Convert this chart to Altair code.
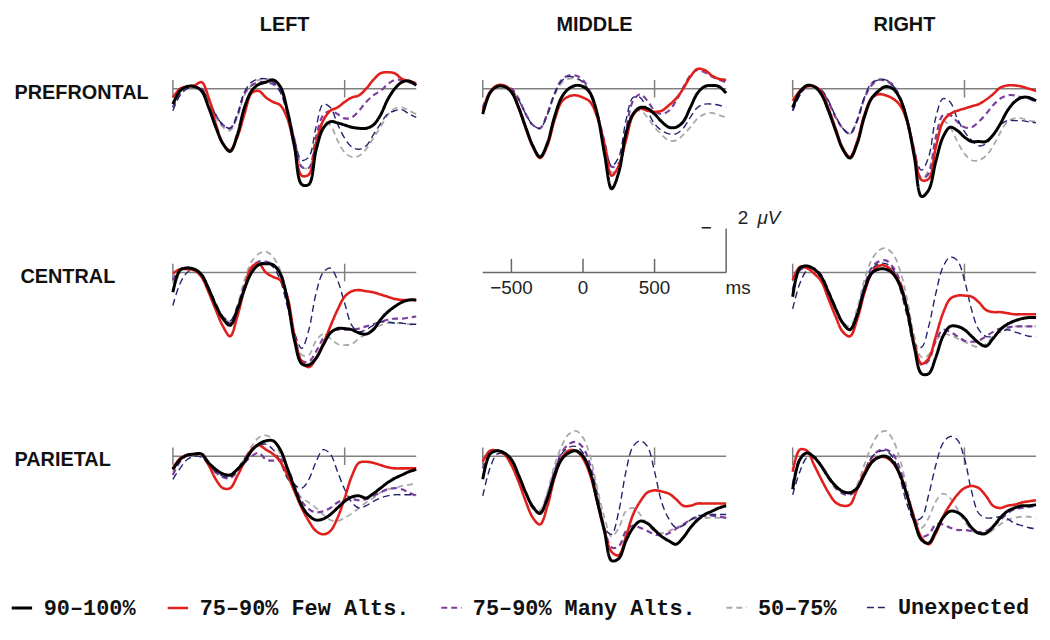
import altair as alt
import pandas as pd

# ---- sample times (ms) ----
TIMES = [-700, -650, -600, -550, -500, -450, -400, -350, -300, -250, -200, -150,
         -100, -50, 0, 50, 100, 150, 200, 250, 300, 350, 400, 450, 500, 550,
         600, 650, 700, 750, 800, 850, 900, 950, 1000]

SERIES = ["90–100%", "75–90% Few Alts.", "75–90% Many Alts.", "50–75%", "Unexpected"]
COLORS = ["#000000", "#e0201c", "#7b3f9e", "#a9a9a9", "#23236e"]
DASHES = [[1, 0], [1, 0], [6, 4], [6, 4], [7, 4]]
WIDTHS = [3.0, 1.4, 1.4, 1.4, 1.7]

# ---- amplitudes (µV, negative plotted up) ----
# Prefrontal
PFL_90 = [0.7, 0.1, -0.1, -0.1, 0.1, 0.85, 1.75, 2.5, 2.85, 2.1, 0.85, 0.1, -0.2, -0.3, -0.4, -0.1, 1.0, 2.65, 4.35, 4.35, 2.8, 1.8, 1.5, 1.55, 1.65, 1.75, 1.8, 1.8, 1.65, 1.2, 0.5, 0.0, -0.3, -0.35, -0.15]
PFL_FEW = [0.4, 0.0, -0.1, -0.15, -0.3, 0.4, 1.6, 2.5, 2.8, 2.2, 1.15, 0.2, 0.1, 0.4, 0.6, 0.75, 1.35, 2.65, 3.95, 3.9, 2.5, 1.45, 1.0, 0.85, 0.6, 0.4, 0.3, 0.0, -0.4, -0.7, -0.75, -0.7, -0.45, -0.35, -0.25]
PFL_MANY = [0.85, 0.2, -0.1, -0.1, 0.0, 0.5, 1.2, 1.65, 1.8, 1.2, 0.2, -0.15, -0.3, -0.3, -0.2, 0.1, 1.0, 2.35, 3.55, 3.6, 2.2, 1.2, 1.0, 1.15, 1.35, 1.3, 1.0, 0.6, 0.3, 0.1, -0.2, -0.4, -0.4, -0.3, -0.15]
PFL_50 = [0.85, 0.2, 0.0, -0.1, 0.05, 0.6, 1.3, 1.75, 1.9, 1.3, 0.3, -0.15, -0.4, -0.45, -0.4, 0.0, 1.0, 2.25, 3.55, 3.6, 2.35, 1.5, 1.65, 2.35, 2.9, 3.1, 3.05, 2.75, 2.25, 1.75, 1.2, 0.9, 0.85, 1.0, 1.15]
PFL_UNX = [1.0, 0.3, 0.0, -0.1, 0.05, 0.5, 1.2, 1.65, 1.8, 1.2, 0.15, -0.3, -0.45, -0.45, -0.3, 0.15, 1.15, 2.35, 3.25, 3.1, 1.75, 0.7, 0.85, 1.6, 2.25, 2.65, 2.75, 2.6, 2.1, 1.6, 1.15, 1.0, 0.95, 1.15, 1.3]

PFM_90 = [1.15, 0.2, -0.1, -0.1, 0.15, 0.85, 1.75, 2.6, 3.1, 2.5, 1.3, 0.4, 0.0, -0.15, -0.1, 0.2, 1.15, 2.95, 4.55, 3.8, 2.05, 1.15, 0.85, 0.9, 1.15, 1.5, 1.75, 1.75, 1.5, 0.85, 0.2, -0.1, -0.15, -0.1, 0.2]
PFM_FEW = [1.0, 0.15, -0.15, -0.15, 0.1, 0.85, 1.8, 2.65, 3.15, 2.6, 1.45, 0.6, 0.35, 0.3, 0.4, 0.6, 1.3, 2.5, 3.95, 3.5, 2.35, 1.2, 0.9, 1.0, 1.05, 1.0, 0.75, 0.45, 0.0, -0.55, -0.9, -0.85, -0.6, -0.45, -0.4]
PFM_MANY = [0.85, 0.15, -0.1, -0.1, 0.0, 0.45, 1.15, 1.65, 1.8, 1.15, 0.25, -0.4, -0.6, -0.6, -0.4, 0.15, 1.15, 2.4, 3.55, 3.4, 1.9, 0.55, 0.25, 0.55, 1.0, 1.15, 1.0, 0.55, -0.05, -0.6, -0.85, -0.75, -0.55, -0.4, -0.3]
PFM_50 = [0.9, 0.15, -0.1, -0.1, 0.05, 0.5, 1.15, 1.65, 1.8, 1.2, 0.3, -0.25, -0.45, -0.45, -0.3, 0.25, 1.3, 2.6, 3.8, 3.55, 2.05, 1.15, 1.0, 1.3, 1.75, 2.1, 2.35, 2.35, 2.1, 1.75, 1.35, 1.15, 1.1, 1.2, 1.3]
PFM_UNX = [1.0, 0.2, -0.1, -0.1, 0.05, 0.5, 1.15, 1.65, 1.8, 1.2, 0.25, -0.35, -0.55, -0.5, -0.3, 0.25, 1.3, 2.5, 3.5, 3.1, 1.45, 0.4, 0.4, 1.0, 1.6, 1.9, 2.05, 2.05, 1.8, 1.3, 0.85, 0.7, 0.7, 0.75, 0.85]

PFR_90 = [0.85, 0.15, -0.15, -0.1, 0.25, 1.0, 1.9, 2.75, 3.15, 2.5, 1.3, 0.45, 0.1, -0.1, 0.0, 0.45, 1.45, 3.1, 4.9, 4.6, 3.3, 2.2, 1.75, 1.9, 2.2, 2.4, 2.4, 2.4, 2.1, 1.6, 1.0, 0.6, 0.4, 0.4, 0.55]
PFR_FEW = [0.55, 0.1, -0.1, -0.1, 0.15, 0.9, 1.8, 2.7, 3.1, 2.4, 1.2, 0.45, 0.25, 0.3, 0.45, 0.75, 1.5, 2.9, 4.15, 4.1, 2.65, 1.5, 1.15, 1.0, 0.9, 0.8, 0.7, 0.5, 0.25, -0.05, -0.15, -0.15, -0.1, 0.0, 0.1]
PFR_MANY = [1.0, 0.25, -0.1, -0.1, 0.1, 0.6, 1.3, 1.8, 2.05, 1.45, 0.45, -0.15, -0.4, -0.35, -0.15, 0.4, 1.4, 2.8, 4.1, 3.85, 2.2, 1.2, 1.2, 1.5, 1.75, 1.75, 1.5, 1.15, 0.75, 0.45, 0.3, 0.3, 0.4, 0.45, 0.6]
PFR_50 = [0.9, 0.25, -0.1, -0.1, 0.1, 0.6, 1.3, 1.8, 2.05, 1.45, 0.45, -0.25, -0.45, -0.4, -0.2, 0.4, 1.45, 2.9, 4.1, 3.7, 2.2, 1.45, 1.75, 2.4, 2.95, 3.25, 3.25, 3.05, 2.6, 2.0, 1.5, 1.35, 1.35, 1.45, 1.5]
PFR_UNX = [1.0, 0.3, -0.1, -0.1, 0.05, 0.55, 1.25, 1.8, 2.05, 1.45, 0.4, -0.25, -0.4, -0.4, -0.15, 0.45, 1.6, 2.95, 3.7, 3.1, 1.3, 0.45, 0.6, 1.35, 1.95, 2.35, 2.6, 2.5, 2.1, 1.65, 1.45, 1.45, 1.45, 1.5, 1.55]

# Central
CL_90 = [0.9, -0.1, -0.2, -0.15, 0.1, 0.75, 1.5, 2.1, 2.4, 1.7, 0.75, 0.0, -0.35, -0.4, -0.35, 0.05, 1.25, 3.1, 4.15, 4.2, 3.9, 3.3, 2.75, 2.55, 2.55, 2.6, 2.75, 2.8, 2.6, 2.15, 1.8, 1.55, 1.35, 1.25, 1.25]
CL_FEW = [0.05, -0.15, -0.15, -0.1, 0.2, 0.9, 1.7, 2.45, 2.9, 2.0, 0.75, -0.25, -0.4, 0.0, 0.2, 0.35, 1.1, 2.9, 4.05, 4.3, 3.9, 3.25, 2.45, 1.7, 1.1, 0.85, 0.8, 0.85, 0.9, 1.0, 1.1, 1.2, 1.25, 1.25, 1.25]
CL_MANY = [0.35, -0.15, -0.2, -0.1, 0.2, 0.8, 1.55, 2.1, 2.3, 1.65, 0.6, -0.2, -0.5, -0.5, -0.35, 0.1, 1.25, 2.9, 4.0, 4.05, 3.6, 3.0, 2.7, 2.6, 2.6, 2.6, 2.55, 2.45, 2.35, 2.25, 2.15, 2.1, 2.1, 2.05, 2.0]
CL_50 = [0.5, -0.1, -0.25, -0.15, 0.1, 0.75, 1.45, 2.0, 2.25, 1.5, 0.35, -0.5, -0.85, -0.95, -0.7, -0.1, 1.1, 2.75, 3.75, 3.75, 3.1, 2.8, 3.0, 3.25, 3.3, 3.25, 3.0, 2.8, 2.55, 2.4, 2.3, 2.3, 2.3, 2.35, 2.4]
CL_UNX = [1.5, 0.5, 0.0, -0.15, 0.05, 0.65, 1.4, 2.0, 2.2, 1.55, 0.6, -0.2, -0.4, -0.45, -0.25, 0.35, 1.55, 2.75, 3.45, 2.6, 0.95, 0.0, -0.2, 0.35, 1.4, 2.4, 2.7, 2.6, 2.4, 2.25, 2.25, 2.3, 2.3, 2.35, 2.35]

CR_90 = [1.1, -0.2, -0.3, -0.15, 0.2, 0.9, 1.65, 2.3, 2.6, 1.95, 0.8, 0.05, -0.15, -0.15, 0.05, 0.6, 1.7, 3.4, 4.6, 4.6, 3.85, 2.9, 2.45, 2.45, 2.6, 2.9, 3.2, 3.35, 3.0, 2.6, 2.35, 2.2, 2.1, 2.05, 2.05]
CR_FEW = [0.35, -0.25, -0.2, 0.05, 0.4, 1.2, 2.0, 2.7, 2.9, 2.15, 0.95, 0.05, -0.3, -0.3, 0.0, 0.5, 1.7, 3.25, 4.15, 3.9, 2.9, 1.85, 1.2, 1.05, 1.05, 1.1, 1.35, 1.7, 1.8, 1.8, 1.85, 1.9, 1.9, 1.9, 1.9]
CR_MANY = [0.8, -0.1, -0.25, -0.15, 0.2, 0.9, 1.65, 2.3, 2.6, 1.85, 0.65, -0.2, -0.5, -0.55, -0.25, 0.4, 1.65, 3.25, 4.2, 4.0, 3.1, 2.6, 2.7, 2.9, 3.1, 3.15, 3.1, 2.9, 2.7, 2.55, 2.5, 2.45, 2.45, 2.45, 2.45]
CR_50 = [0.8, -0.1, -0.25, -0.15, 0.2, 0.9, 1.65, 2.25, 2.45, 1.65, 0.35, -0.55, -1.0, -1.1, -0.85, -0.1, 1.25, 2.9, 3.85, 3.75, 3.1, 2.8, 2.85, 3.0, 3.15, 3.3, 3.4, 3.25, 2.9, 2.7, 2.55, 2.45, 2.45, 2.45, 2.45]
CR_UNX = [1.65, 0.5, -0.1, -0.2, 0.1, 0.8, 1.55, 2.25, 2.55, 1.85, 0.75, -0.1, -0.4, -0.4, -0.15, 0.75, 2.0, 3.25, 3.4, 2.45, 0.95, -0.25, -0.7, -0.55, 0.35, 1.7, 2.6, 2.9, 2.9, 2.7, 2.6, 2.7, 2.8, 2.9, 2.9]

# Parietal
PAL_90 = [0.6, 0.15, -0.05, -0.1, -0.1, 0.3, 0.6, 0.8, 0.85, 0.6, 0.25, -0.25, -0.55, -0.7, -0.7, -0.3, 0.55, 1.45, 2.25, 2.7, 2.9, 2.85, 2.65, 2.35, 2.05, 1.85, 1.8, 1.9, 1.7, 1.45, 1.2, 1.0, 0.85, 0.7, 0.6]
PAL_FEW = [0.55, 0.1, -0.05, -0.1, -0.1, 0.4, 1.05, 1.45, 1.45, 0.9, 0.25, -0.3, -0.5, -0.3, -0.1, 0.25, 0.85, 1.6, 2.35, 2.95, 3.4, 3.55, 3.4, 2.8, 1.9, 0.9, 0.3, 0.25, 0.3, 0.4, 0.5, 0.55, 0.55, 0.55, 0.55]
PAL_MANY = [0.85, 0.25, -0.05, -0.1, -0.05, 0.4, 0.75, 0.95, 1.0, 0.7, 0.3, 0.0, -0.15, 0.15, 0.2, 0.15, 0.55, 1.3, 2.05, 2.4, 2.55, 2.5, 2.35, 2.1, 1.95, 1.95, 2.0, 1.95, 1.8, 1.65, 1.5, 1.45, 1.5, 1.65, 1.8]
PAL_50 = [0.7, 0.15, -0.1, -0.1, -0.05, 0.35, 0.7, 0.85, 0.9, 0.55, 0.1, -0.45, -0.85, -0.95, -0.75, -0.1, 0.85, 1.5, 1.9, 2.1, 2.35, 2.65, 2.9, 2.95, 2.8, 2.6, 2.35, 2.1, 1.9, 1.65, 1.5, 1.45, 1.35, 1.3, 1.2]
PAL_UNX = [1.05, 0.55, 0.15, 0.0, 0.05, 0.4, 0.7, 0.9, 0.95, 0.6, 0.1, -0.3, -0.5, -0.55, -0.3, 0.25, 1.0, 1.3, 1.45, 1.05, 0.25, -0.3, -0.1, 0.7, 1.5, 2.1, 2.35, 2.25, 2.05, 1.9, 1.8, 1.75, 1.75, 1.75, 1.75]

PAM_90 = [1.05, -0.1, -0.25, -0.15, 0.15, 0.85, 1.65, 2.3, 2.6, 1.95, 0.9, 0.15, -0.15, -0.25, 0.0, 0.7, 2.05, 3.4, 4.75, 4.65, 3.85, 3.25, 2.95, 3.05, 3.35, 3.65, 3.85, 4.0, 3.7, 3.25, 2.9, 2.65, 2.5, 2.35, 2.25]
PAM_FEW = [0.25, -0.25, -0.25, -0.1, 0.4, 1.15, 2.05, 2.8, 3.1, 2.3, 1.0, 0.1, -0.25, -0.25, 0.1, 0.85, 2.1, 3.4, 4.35, 4.5, 3.65, 2.65, 2.05, 1.65, 1.55, 1.6, 1.7, 1.95, 2.25, 2.25, 2.15, 2.15, 2.15, 2.15, 2.15]
PAM_MANY = [0.55, -0.15, -0.25, -0.1, 0.25, 0.9, 1.7, 2.35, 2.55, 1.8, 0.7, -0.15, -0.55, -0.65, -0.4, 0.4, 1.75, 3.25, 4.15, 4.1, 3.4, 3.15, 3.25, 3.4, 3.55, 3.6, 3.5, 3.3, 3.1, 2.9, 2.75, 2.7, 2.7, 2.75, 2.8]
PAM_50 = [0.55, -0.1, -0.25, -0.1, 0.2, 0.85, 1.65, 2.25, 2.45, 1.65, 0.45, -0.45, -1.0, -1.15, -0.85, 0.0, 1.45, 2.8, 3.65, 3.25, 2.5, 2.35, 2.65, 3.1, 3.4, 3.5, 3.4, 3.25, 3.1, 2.9, 2.85, 2.8, 2.8, 2.8, 2.8]
PAM_UNX = [1.8, 0.55, -0.1, -0.1, 0.25, 0.9, 1.7, 2.3, 2.6, 1.9, 0.75, -0.1, -0.4, -0.45, -0.15, 0.75, 2.1, 3.25, 3.55, 2.5, 0.7, -0.45, -0.7, -0.45, 0.7, 2.1, 2.85, 3.25, 3.15, 2.9, 2.7, 2.7, 2.65, 2.65, 2.65]

PAR_90 = [1.5, 0.15, -0.15, 0.05, 0.45, 0.95, 1.35, 1.6, 1.65, 1.45, 0.85, 0.3, 0.05, 0.0, 0.25, 0.85, 1.8, 2.95, 3.8, 3.95, 3.4, 2.8, 2.5, 2.55, 2.8, 3.25, 3.5, 3.5, 3.2, 2.8, 2.5, 2.35, 2.25, 2.25, 2.2]
PAR_FEW = [0.7, -0.3, -0.25, 0.4, 1.05, 1.65, 2.1, 2.25, 2.2, 1.5, 0.75, 0.25, 0.05, 0.05, 0.3, 0.85, 1.8, 2.8, 3.7, 4.0, 3.5, 2.75, 2.2, 1.75, 1.45, 1.35, 1.45, 1.8, 2.25, 2.35, 2.25, 2.2, 2.1, 2.05, 2.0]
PAR_MANY = [1.3, 0.1, -0.15, 0.05, 0.45, 1.0, 1.45, 1.7, 1.75, 1.45, 0.75, 0.1, -0.25, -0.3, -0.1, 0.6, 1.75, 2.95, 3.65, 3.55, 3.1, 3.1, 3.25, 3.35, 3.35, 3.4, 3.45, 3.4, 3.2, 2.9, 2.6, 2.4, 2.35, 2.3, 2.25]
PAR_50 = [1.35, 0.1, -0.15, 0.05, 0.4, 0.9, 1.35, 1.6, 1.7, 1.3, 0.4, -0.45, -1.0, -1.15, -0.75, 0.15, 1.5, 2.7, 3.25, 2.8, 2.05, 1.7, 1.9, 2.4, 2.95, 3.35, 3.55, 3.55, 3.35, 3.1, 2.9, 2.8, 2.75, 2.75, 2.8]
PAR_UNX = [1.75, 0.7, 0.05, 0.0, 0.4, 0.9, 1.35, 1.6, 1.7, 1.4, 0.7, 0.05, -0.2, -0.25, 0.05, 1.0, 2.2, 2.9, 2.8, 1.75, 0.4, -0.6, -0.9, -0.75, 0.1, 1.6, 2.6, 2.8, 2.8, 2.75, 2.85, 3.05, 3.15, 3.25, 3.3]

# Scale-panel labels
AXIS_TICKS = [-500, 0, 500]
AXIS_LABELS = ["−500", "0", "500"]
BASE_TICKS = [-700, 500]

COLS = ["LEFT", "MIDDLE", "RIGHT"]
ROWS = ["PREFRONTAL", "CENTRAL", "PARIETAL"]

PANELS = {
    ("PREFRONTAL", "LEFT"): [PFL_90, PFL_FEW, PFL_MANY, PFL_50, PFL_UNX],
    ("PREFRONTAL", "MIDDLE"): [PFM_90, PFM_FEW, PFM_MANY, PFM_50, PFM_UNX],
    ("PREFRONTAL", "RIGHT"): [PFR_90, PFR_FEW, PFR_MANY, PFR_50, PFR_UNX],
    ("CENTRAL", "LEFT"): [CL_90, CL_FEW, CL_MANY, CL_50, CL_UNX],
    ("CENTRAL", "RIGHT"): [CR_90, CR_FEW, CR_MANY, CR_50, CR_UNX],
    ("PARIETAL", "LEFT"): [PAL_90, PAL_FEW, PAL_MANY, PAL_50, PAL_UNX],
    ("PARIETAL", "MIDDLE"): [PAM_90, PAM_FEW, PAM_MANY, PAM_50, PAM_UNX],
    ("PARIETAL", "RIGHT"): [PAR_90, PAR_FEW, PAR_MANY, PAR_50, PAR_UNX],
}
for k, v in PANELS.items():
    for s in v:
        assert len(s) == len(TIMES), (k, len(s))

W, H = 245, 155
FONT = "Liberation Sans"
x_scale = alt.Scale(domain=[-700, 1000], nice=False, zero=False)
y_scale = alt.Scale(domain=[-1.5, 5.5], reverse=True, nice=False, zero=False)

legend = alt.Legend(
    title=None, orient="none", legendX=-164, legendY=544, direction="horizontal",
    labelFont="Liberation Mono", labelFontSize=22, labelFontWeight="bold",
    labelColor="#111", labelLimit=400, labelOffset=10, columnPadding=26,
    symbolType="stroke", symbolSize=420,
)
color_enc = alt.Color("series:N", scale=alt.Scale(domain=SERIES, range=COLORS), legend=legend)
dash_enc = alt.StrokeDash("series:N", scale=alt.Scale(domain=SERIES, range=DASHES), legend=legend)
width_enc = alt.StrokeWidth("series:N", scale=alt.Scale(domain=SERIES, range=WIDTHS), legend=legend)

DRAW_ORDER = [3, 2, 4, 1, 0]  # z-order: gray, purple, navy, red, black on top


def y_axis(row_label, title_x):
    if row_label is None:
        return None
    return alt.Axis(title=row_label, titleAngle=0, titleAlign="left", titleBaseline="middle",
                    titleX=title_x, titleY=37, titleFont=FONT, titleFontSize=20,
                    titleFontWeight="bold", titleColor="#111",
                    labels=False, ticks=False, domain=False, grid=False)


def data_panel(key, row_label=None, title=None, title_x=-160):
    series_lists = PANELS[key]
    rows = []
    for i in DRAW_ORDER:
        for t, v in zip(TIMES, series_lists[i]):
            rows.append({"t": t, "uv": v, "series": SERIES[i]})
    df = pd.DataFrame(rows)
    ax = y_axis(row_label, title_x)
    base = alt.Chart(pd.DataFrame({"t0": [TIMES[0]], "t1": [TIMES[-1]], "v": [0.0]})).mark_rule(
        color="#808080", strokeWidth=1.5).encode(
        x=alt.X("t0:Q", scale=x_scale, axis=None), x2="t1:Q",
        y=alt.Y("v:Q", scale=y_scale, axis=ax))
    ticks = alt.Chart(pd.DataFrame({"t": BASE_TICKS, "lo": [-0.4] * 2, "hi": [0.4] * 2})).mark_rule(
        color="#808080", strokeWidth=1.5).encode(
        x=alt.X("t:Q", scale=x_scale, axis=None),
        y=alt.Y("lo:Q", scale=y_scale, axis=ax), y2="hi:Q")
    lines = alt.Chart(df).mark_line(interpolate="catmull-rom").encode(
        x=alt.X("t:Q", scale=x_scale, axis=None),
        y=alt.Y("uv:Q", scale=y_scale, axis=ax),
        color=color_enc, strokeDash=dash_enc, strokeWidth=width_enc)
    props = dict(width=W, height=H)
    if title is not None:
        props["title"] = alt.TitleParams(title, font=FONT, fontSize=20, fontWeight="bold",
                                         color="#111", anchor="middle", frame="group",
                                         dx=-10, offset=21)
    return alt.layer(base, ticks, lines).properties(**props)


def scale_panel():
    line = alt.Chart(pd.DataFrame({"t0": [TIMES[0]], "t1": [TIMES[-1]], "v": [0.0]})).mark_rule(
        color="#666666", strokeWidth=1.5).encode(
        x=alt.X("t0:Q", scale=x_scale, axis=None), x2="t1:Q",
        y=alt.Y("v:Q", scale=y_scale, axis=None))
    tdf = pd.DataFrame({"t": AXIS_TICKS, "lab": AXIS_LABELS, "v": [0.0] * 3, "hi": [-0.62] * 3})
    ticks = alt.Chart(tdf).mark_rule(color="#666666", strokeWidth=1.5).encode(
        x=alt.X("t:Q", scale=x_scale, axis=None),
        y=alt.Y("v:Q", scale=y_scale, axis=None), y2="hi:Q")
    labels = alt.Chart(tdf).mark_text(font=FONT, fontSize=19, dy=16, color="#222").encode(
        x=alt.X("t:Q", scale=x_scale, axis=None),
        y=alt.Y("v:Q", scale=y_scale, axis=None), text="lab:N")
    bdf = pd.DataFrame({"t": [TIMES[-1]], "v": [0.0], "hi": [-2.0]})
    bar = alt.Chart(bdf).mark_rule(color="#666666", strokeWidth=1.5).encode(
        x=alt.X("t:Q", scale=x_scale, axis=None),
        y=alt.Y("v:Q", scale=y_scale, axis=None), y2="hi:Q")
    ms = alt.Chart(bdf).mark_text(font=FONT, fontSize=19, dx=12, dy=16, color="#222", text="ms").encode(
        x=alt.X("t:Q", scale=x_scale, axis=None), y=alt.Y("v:Q", scale=y_scale, axis=None))
    minus = alt.Chart(bdf).mark_text(font=FONT, fontSize=19, dx=-20, dy=0, color="#222", text="−").encode(
        x=alt.X("t:Q", scale=x_scale, axis=None), y=alt.Y("hi:Q", scale=y_scale, axis=None))
    two = alt.Chart(bdf).mark_text(font=FONT, fontSize=19, dx=17, dy=-11, color="#222", text="2").encode(
        x=alt.X("t:Q", scale=x_scale, axis=None), y=alt.Y("hi:Q", scale=y_scale, axis=None))
    uv = alt.Chart(bdf).mark_text(font=FONT, fontSize=19, dx=43, dy=-11, color="#222",
                                  fontStyle="italic", text="μV").encode(
        x=alt.X("t:Q", scale=x_scale, axis=None), y=alt.Y("hi:Q", scale=y_scale, axis=None))
    return alt.layer(line, ticks, labels, bar, ms, minus, two, uv).properties(width=W, height=H)


panels = []
for r in ROWS:
    for c in COLS:
        label = r if c == "LEFT" else None
        title = c if r == "PREFRONTAL" else None
        tx = -154 if r == "CENTRAL" else -160
        if (r, c) in PANELS:
            panels.append(data_panel((r, c), row_label=label, title=title, title_x=tx))
        else:
            panels.append(scale_panel())

chart = alt.concat(*panels, columns=3, spacing={"row": 30, "column": 67}, bounds="flush").configure_view(
    stroke=None).properties(background="white", padding={"left": 2, "right": 0, "top": 5, "bottom": 0})

chart.save("out.html", embed_options={"renderer": "svg", "actions": False})
